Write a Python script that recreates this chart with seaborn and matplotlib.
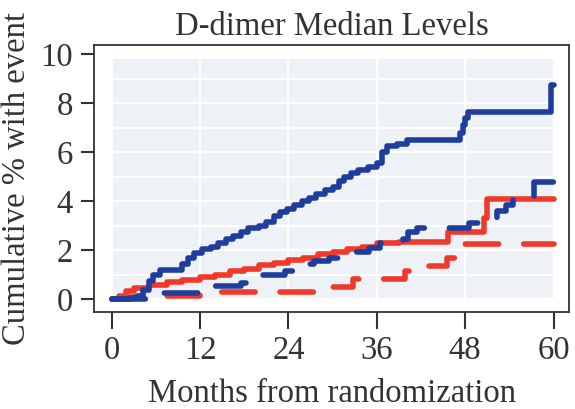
import matplotlib
matplotlib.use("Agg")
import matplotlib.pyplot as plt
from matplotlib.patches import Rectangle
from matplotlib.ticker import MultipleLocator
import numpy as np
import pandas as pd
import seaborn as sns

# Step-change points (months, cumulative % with event) for each curve
above_arm1_months = [0, 2.5, 3.5, 4.3, 5.0, 5.6, 6.5, 9.5, 10.3, 11.2, 12.2, 13.5, 14.5,
                     15.5, 16.5, 17.5, 18.5, 20.0, 21.0, 22.0, 22.8, 23.8, 24.8, 25.8,
                     26.8, 27.8, 29.0, 30.0, 30.8, 31.6, 32.5, 33.5, 34.8, 36.0, 36.7,
                     37.4, 38.8, 40.1, 47.3, 47.7, 48.0, 48.4, 59.6, 60.0]
above_arm1_pct = [0, 0.05, 0.15, 0.4, 0.75, 1.0, 1.2, 1.45, 1.7, 1.9, 2.05, 2.15, 2.3,
                  2.45, 2.6, 2.75, 2.9, 3.0, 3.15, 3.4, 3.55, 3.7, 3.85, 4.0,
                  4.15, 4.3, 4.45, 4.6, 4.85, 5.0, 5.15, 5.3, 5.4, 5.55, 6.0,
                  6.25, 6.35, 6.52, 6.8, 7.1, 7.4, 7.64, 8.75, 8.75]

above_arm2_months = [0, 5.0, 6.5, 13.0, 17.5, 19.5, 23.5, 25.5, 27.5, 29.5, 31.0, 33.0,
                     35.0, 36.5, 39.5, 40.2, 41.5, 48.5, 51.5, 52.3, 53.5, 54.5, 57.3, 60.0]
above_arm2_pct = [0, 0.1, 0.25, 0.55, 0.65, 1.0, 1.17, 1.45, 1.55, 1.7, 1.85, 1.95,
                  2.1, 2.3, 2.45, 2.75, 2.9, 3.1, 3.3, 3.6, 3.85, 4.1, 4.8, 4.8]

below_arm1_months = [0, 1.0, 2.0, 3.0, 5.0, 7.5, 9.5, 12.0, 14.0, 16.0, 18.0, 20.0, 22.0,
                     24.0, 26.0, 28.0, 30.0, 32.0, 34.0, 36.0, 39.0, 45.6, 50.6, 51.0, 60.0]
below_arm1_pct = [0, 0.15, 0.35, 0.45, 0.6, 0.7, 0.8, 0.9, 1.0, 1.15, 1.25, 1.4, 1.5,
                  1.6, 1.7, 1.85, 1.95, 2.05, 2.15, 2.3, 2.35, 2.74, 3.3, 4.1, 4.1]

below_arm2_months = [0, 1.5, 6.0, 12.0, 28.5, 32.8, 39.8, 41.5, 45.5, 47.3, 60.0]
below_arm2_pct = [0, 0.08, 0.15, 0.28, 0.5, 0.85, 1.17, 1.38, 1.7, 2.27, 2.27]

x_ticks = [0, 12, 24, 36, 48, 60]
y_ticks = [0, 2, 4, 6, 8, 10]

BLUE = "#1e3d9c"
RED = "#f0392a"
INK = "#333333"

frames = []
for level, arm, m, p in [
    ("Below median", "Arm 2", below_arm2_months, below_arm2_pct),
    ("Below median", "Arm 1", below_arm1_months, below_arm1_pct),
    ("Above median", "Arm 2", above_arm2_months, above_arm2_pct),
    ("Above median", "Arm 1", above_arm1_months, above_arm1_pct),
]:
    frames.append(pd.DataFrame({"month": m, "pct": p, "level": level, "arm": arm}))

sns.set_theme(style="white")
plt.rcParams["font.family"] = ["Liberation Serif", "DejaVu Serif"]
plt.rcParams["text.color"] = INK
plt.rcParams["axes.labelcolor"] = INK
plt.rcParams["xtick.color"] = INK
plt.rcParams["ytick.color"] = INK

fig = plt.figure(figsize=(5.75, 4.09), dpi=100)
ax = fig.add_axes([0.164, 0.237, 0.8256, 0.6528])
ax.set_facecolor("white")

# shaded plotting region behind the curves
ax.add_patch(Rectangle((0, 0), 60, 9.8, facecolor="#eef2f6", edgecolor="none", zorder=0.1))

palette = {"Above median": BLUE, "Below median": RED}
dashes = {"Arm 1": "", "Arm 2": (6.0, 4.5)}
for df in frames:
    sns.lineplot(data=df, x="month", y="pct", hue="level", style="arm",
                 palette=palette, dashes=dashes, estimator=None, sort=False,
                 drawstyle="steps-post", linewidth=4.0, legend=False,
                 solid_capstyle="round", dash_capstyle="round",
                 solid_joinstyle="round", ax=ax, zorder=3)

ax.set_xlim(-2.36, 62.1)
ax.set_ylim(-0.52, 10.38)
ax.set_xticks(x_ticks)
ax.set_yticks(y_ticks)
ax.yaxis.set_minor_locator(MultipleLocator(1))
ax.set_axisbelow(True)
ax.grid(True, which="both", color="white", linewidth=1.6)

ax.tick_params(axis="x", which="major", direction="out", length=12, width=1.5,
               pad=5, labelsize=23.5, bottom=True)
ax.tick_params(axis="y", which="major", direction="out", length=9.5, width=1.5,
               pad=6, labelsize=23.5, left=True)
ax.tick_params(axis="y", which="minor", length=0)

for s in ax.spines.values():
    s.set_color(INK)
    s.set_linewidth(1.3)

ax.set_title("D-dimer Median Levels", fontsize=23.5, pad=7)
ax.set_xlabel("Months from randomization", fontsize=23.5, labelpad=9)
ax.set_ylabel("Cumulative % with event", fontsize=23.5, labelpad=6)

fig.savefig("out.png", dpi=100, facecolor="white")
